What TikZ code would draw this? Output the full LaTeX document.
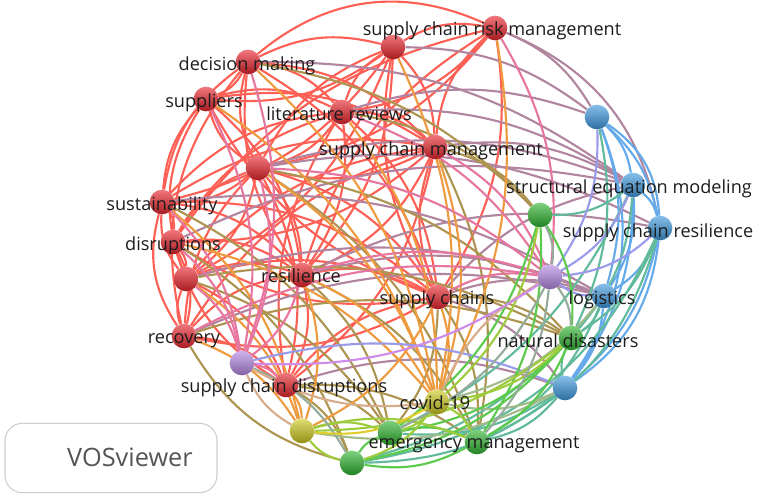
\documentclass[tikz,border=0pt]{standalone}
\usepackage{fontspec}
\setmainfont{Open Sans}
\usetikzlibrary{backgrounds}

\definecolor{nodered}{RGB}{232, 36, 44}
\definecolor{nodeblue}{RGB}{62, 152, 222}
\definecolor{nodegreen}{RGB}{46, 180, 46}
\definecolor{nodepurple}{RGB}{180, 134, 226}
\definecolor{nodeyellow}{RGB}{204, 200, 28}
\definecolor{edgered}{RGB}{255, 96, 86}
\definecolor{edgeblue}{RGB}{100, 170, 234}
\definecolor{edgegreen}{RGB}{92, 202, 76}
\definecolor{edgepurple}{RGB}{206, 140, 234}
\definecolor{edgeyellow}{RGB}{224, 204, 44}
\definecolor{labeltext}{RGB}{28, 28, 28}
\definecolor{logogray}{RGB}{85, 85, 85}

\tikzset{
  kw/.style={circle, inner sep=0pt, minimum size=18.5pt, draw=none,
    top color=#1!62!white, middle color=#1, bottom color=#1!72!black},
  kwlabel/.style={font=\fontsize{13.6}{16}\selectfont, text=labeltext, inner sep=0pt, anchor=base},
  link/.style={line width=1.6pt, draw=#1},
}

\begin{document}
\begin{tikzpicture}[x=0.75pt, y=0.75pt]
  \useasboundingbox (0,0) rectangle (758,-494);

  % Keywords: red cluster
  \node[kw=nodered] (scrm) at (495,-28) {};
  \node[kw=nodered] (rA) at (393,-47) {};
  \node[kw=nodered] (decision) at (248,-62) {};
  \node[kw=nodered] (suppliers) at (206,-99) {};
  \node[kw=nodered] (litrev) at (342,-112) {};
  \node[kw=nodered] (scm) at (435,-147) {};
  \node[kw=nodered] (rB) at (258,-168) {};
  \node[kw=nodered] (sustain) at (162,-202) {};
  \node[kw=nodered] (disrupt) at (173,-242) {};
  \node[kw=nodered] (rC) at (186,-279) {};
  \node[kw=nodered] (resil) at (302,-275) {};
  \node[kw=nodered] (chains) at (438,-297) {};
  \node[kw=nodered] (recovery) at (184,-336) {};
  \node[kw=nodered] (scdisr) at (286,-385) {};

  % Keywords: blue cluster
  \node[kw=nodeblue] (bA) at (597,-117) {};
  \node[kw=nodeblue] (sem) at (633,-185) {};
  \node[kw=nodeblue] (scres) at (660,-228) {};
  \node[kw=nodeblue] (logist) at (604,-296) {};
  \node[kw=nodeblue] (bB) at (565,-388) {};

  % Keywords: green, purple, yellow clusters
  \node[kw=nodegreen] (gA) at (540,-215) {};
  \node[kw=nodegreen] (natdis) at (571,-338) {};
  \node[kw=nodegreen] (gB) at (390,-433) {};
  \node[kw=nodegreen] (emerg) at (477,-442) {};
  \node[kw=nodegreen] (gC) at (352,-463) {};
  \node[kw=nodepurple] (pA) at (550,-277) {};
  \node[kw=nodepurple] (pB) at (242,-363) {};
  \node[kw=nodeyellow] (covid) at (437,-402) {};
  \node[kw=nodeyellow] (yA) at (302,-431) {};

  \begin{pgfonlayer}{background}
    % links inside the red cluster
    \foreach \a/\b in {rA/scrm, scrm/litrev, scm/scrm, scrm/rB, resil/scrm, scrm/chains, disrupt/scrm,
        decision/rA, rA/suppliers, litrev/rA, rA/scm, rB/rA, rA/sustain, rA/resil, chains/rA, rA/rC,
        decision/suppliers, decision/litrev, rB/decision, decision/scm, resil/decision, decision/chains,
        suppliers/litrev, suppliers/scm, rB/suppliers, suppliers/resil, chains/suppliers,
        litrev/scm, litrev/rB, disrupt/litrev, litrev/resil, litrev/chains, sustain/litrev, scdisr/litrev,
        scm/rB, sustain/scm, scm/disrupt, rC/scm, scm/resil, chains/scm, recovery/scm, scm/scdisr,
        rB/sustain, disrupt/rB, rB/rC, rB/resil, rB/chains, recovery/rB, rB/scdisr,
        sustain/disrupt, rC/sustain, sustain/resil, sustain/chains,
        disrupt/rC, disrupt/resil, chains/disrupt, disrupt/recovery, scdisr/disrupt,
        rC/resil, rC/chains, recovery/rC, rC/scdisr,
        resil/chains, recovery/resil, resil/scdisr, chains/recovery, scdisr/chains, recovery/scdisr}
      \draw[link=edgered] (\a) to[bend left=20] (\b);
    \draw[link=edgered] (decision) to[bend left=32] (scrm);
    \draw[link=edgered] (sustain) to[bend left=22] (decision);
    \draw[link=edgered] (sustain) to[bend left=18] (suppliers);
    \draw[link=edgered] (recovery) to[bend left=24] (sustain);
    \draw[link=edgered] (recovery) to[bend left=26] (decision);
    \draw[link=edgered] (rC) to[bend left=26] (suppliers);

    % red to other clusters
    \foreach \a/\b in {scrm/bA, rA/bA, litrev/bA, scm/sem, rB/sem, chains/logist, resil/logist, chains/bB, litrev/sem,
        sustain/logist, rB/scres, disrupt/sem, rC/logist, resil/scres, decision/sem, recovery/logist, scdisr/bB, chains/sem}
      \draw[link=edgered!50!edgeblue] (\a) to[bend left=18] (\b);
    \draw[link=edgered!50!edgeblue] (scrm) to[bend left=28] (scres);
    \foreach \a/\b in {scm/gA, litrev/gA, chains/natdis, chains/gB, chains/emerg, resil/emerg, scdisr/gB, rB/emerg, scm/emerg, disrupt/gC,
        recovery/natdis, rC/natdis, rC/gB, resil/gB, scdisr/gC, scdisr/emerg, decision/gA, rB/natdis, sustain/gB}
      \draw[link=edgered!50!edgegreen] (\a) to[bend left=18] (\b);
    \draw[link=edgered!50!edgegreen] (gC) to[bend left=22] (recovery);
    \foreach \a/\b in {chains/covid, resil/covid, scdisr/yA, recovery/yA, scm/covid, rB/covid, disrupt/covid, rC/yA, litrev/covid, scrm/covid, rA/covid, resil/yA,
        sustain/yA, decision/covid, suppliers/covid, chains/yA}
      \draw[link=edgered!45!edgeyellow] (\a) to[bend left=18] (\b);
    \foreach \a/\b in {chains/pA, resil/pA, rB/pA, scm/pA, rC/pB, disrupt/pB, pB/scdisr, resil/pB, sustain/pB, litrev/pA, scrm/pA, suppliers/pB,
        recovery/pA, rB/pB, decision/pB}
      \draw[link=edgered!50!edgepurple] (\a) to[bend left=18] (\b);

    % blue cluster
    \foreach \a/\b in {bA/sem, bA/scres, bA/logist, sem/scres, sem/logist, sem/bB, scres/logist, logist/bB, scres/bB}
      \draw[link=edgeblue] (\a) to[bend left=18] (\b);
    \draw[link=edgeblue] (bA) to[bend left=28] (bB);
    \draw[link=edgeblue] (scres) to[bend left=24] (bB);
    \draw[link=edgeblue] (bA) to[bend left=26] (scres);
    \foreach \a/\b in {sem/gA, scres/natdis, logist/natdis, bB/emerg, bB/gC, bA/natdis, sem/gB,
        logist/emerg, bB/natdis, sem/natdis, bB/gB, logist/gC}
      \draw[link=edgeblue!50!edgegreen] (\a) to[bend left=18] (\b);
    \draw[link=edgeblue!50!edgegreen] (scres) to[bend left=28] (gC);
    \draw[link=edgeblue!50!edgegreen] (scres) to[bend left=24] (emerg);
    \foreach \a/\b in {bA/pA, scres/pA, logist/pA, sem/pA, pB/bB}
      \draw[link=edgeblue!50!edgepurple] (\a) to[bend left=18] (\b);
    \foreach \a/\b in {bB/covid, logist/covid, bB/yA}
      \draw[link=edgeblue!50!edgeyellow] (\a) to[bend left=18] (\b);

    % green, yellow, purple
    \foreach \a/\b in {gA/natdis, natdis/gB, natdis/emerg, gB/emerg, gC/gB, emerg/gC, gA/gB, natdis/gC, gA/emerg}
      \draw[link=edgegreen] (\a) to[bend left=18] (\b);
    \foreach \a/\b in {covid/gB, covid/emerg, yA/gB, gC/yA, covid/gC, yA/emerg, natdis/covid, gA/covid, natdis/yA}
      \draw[link=edgegreen!50!edgeyellow] (\a) to[bend left=18] (\b);
    \foreach \a/\b in {pA/natdis, pA/gB, pA/emerg, pB/gC, gA/pA}
      \draw[link=edgegreen!50!edgepurple] (\a) to[bend left=18] (\b);
    \draw[link=edgeyellow] (covid) to[bend left=18] (yA);
    \foreach \a/\b in {covid/pA, yA/pB, covid/pB}
      \draw[link=edgeyellow!50!edgepurple] (\a) to[bend left=18] (\b);
    \draw[link=edgepurple] (pA) to[bend left=18] (pB);
  \end{pgfonlayer}

  % Labels
  \node[kwlabel] (scrm-l) at (492,-35) {supply chain risk management};
  \node[kwlabel] (decision-l) at (247,-70) {decision making};
  \node[kwlabel] (suppliers-l) at (204,-107) {suppliers};
  \node[kwlabel] (litrev-l) at (339,-120) {literature reviews};
  \node[kwlabel] (scm-l) at (431,-155) {supply chain management};
  \node[kwlabel] (sem-l) at (629,-193) {structural equation modeling};
  \node[kwlabel] (sustain-l) at (162,-210) {sustainability};
  \node[kwlabel] (scres-l) at (658,-237) {supply chain resilience};
  \node[kwlabel] (disrupt-l) at (173,-250) {disruptions};
  \node[kwlabel] (resil-l) at (301,-282) {resilience};
  \node[kwlabel] (chains-l) at (437,-304) {supply chains};
  \node[kwlabel] (logist-l) at (602,-304) {logistics};
  \node[kwlabel] (recovery-l) at (184,-343) {recovery};
  \node[kwlabel] (natdis-l) at (568,-347) {natural disasters};
  \node[kwlabel] (scdisr-l) at (284,-392) {supply chain disruptions};
  \node[kwlabel] (covid-l) at (435,-409) {covid-19};
  \node[kwlabel] (emerg-l) at (474,-448) {emergency management};

  % VOSviewer box
  \node[draw={rgb,255:red,205;green,205;blue,205}, rounded corners=13pt, line width=0.8pt,
    minimum width=159pt, minimum height=52pt, inner sep=0pt] (logo) at (111,-458) {};
  \node[font=\fontsize{19}{22}\selectfont, text=logogray, anchor=base, inner sep=0pt] (logo-t) at (130,-466) {VOSviewer};
\end{tikzpicture}
\end{document}
